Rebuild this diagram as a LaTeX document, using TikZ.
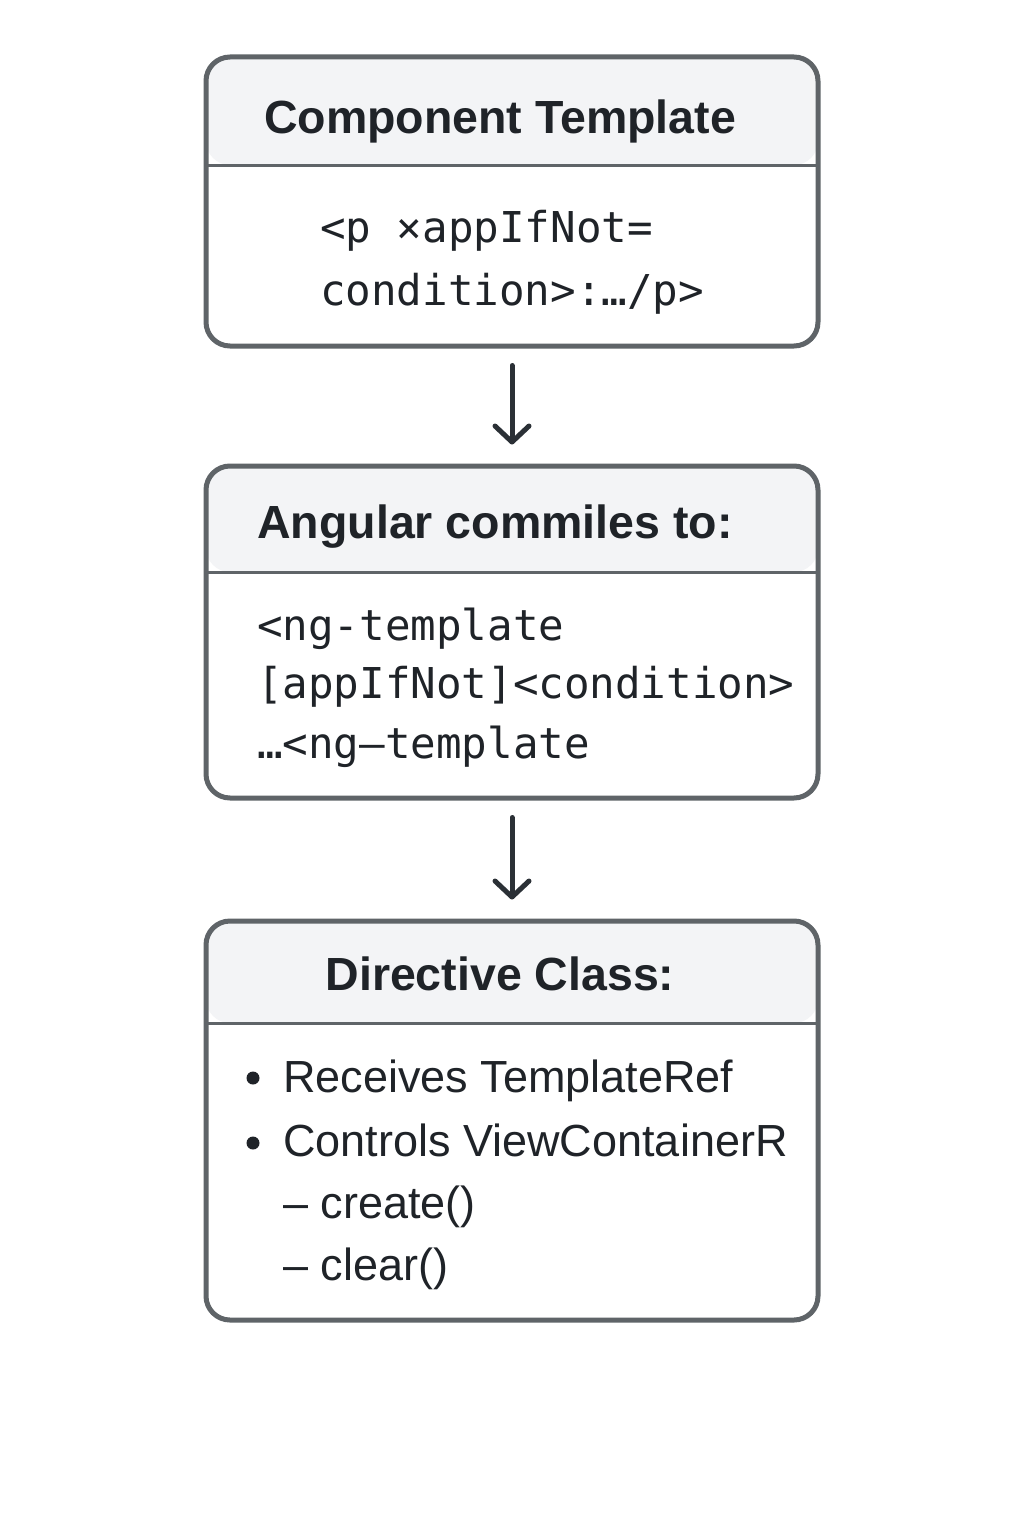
\documentclass[tikz,border=0pt]{standalone}
\usepackage{fontspec}
\setmainfont{Liberation Sans}
\setmonofont{DejaVu Sans Mono}
\usetikzlibrary{arrows.meta,positioning,calc}
\definecolor{edge}{HTML}{5F6468}
\definecolor{ink}{HTML}{1F2328}
\definecolor{headbg}{HTML}{F3F4F6}
\definecolor{arrowc}{HTML}{2B3036}
\tikzset{
    panel/.style =    {rectangle,
                      rounded corners=24pt,
                      fill=white,
                      draw=edge,
                      line width=5pt,
                      minimum width=612pt,
                      inner sep=0pt,
                      path picture={
                        \fill[headbg] (path picture bounding box.north west)
                          rectangle ([yshift=-#1]path picture bounding box.north east);
                        \draw[edge, line width=3pt]
                          ([yshift=-#1]path picture bounding box.north west)
                          -- ([yshift=-#1]path picture bounding box.north east);}},
    headtext/.style = {text=ink,
                      font=\fontsize{46.5}{56}\selectfont\bfseries,
                      anchor=base,
                      inner sep=0pt},
    codetext/.style = {text=ink,
                      font=\fontsize{42.5}{50}\selectfont\ttfamily,
                      anchor=base west,
                      inner sep=0pt},
    itemtext/.style = {text=ink,
                      font=\fontsize{45}{54}\selectfont,
                      anchor=base west,
                      inner sep=0pt},
    dotmark/.style =  {circle,
                      fill=ink,
                      minimum size=13pt,
                      inner sep=0pt},
    flow/.style =     {-{Straight Barb[length=16pt,width=34pt,line cap=round,line join=round]},
                      draw=arrowc,
                      line width=5pt,
                      line cap=round,
                      shorten <=17pt,
                      shorten >=19pt}
}
\begin{document}
\begin{tikzpicture}[x=1pt,y=-1pt]
    \fill[white] (0,0) rectangle (1024,1536);
    \useasboundingbox (0,0) rectangle (1024,1536);
    % boxes
    \node[panel={108pt}, minimum height=289pt] (tmpl)      at (512,201.5)  {};
    \node[panel={106pt}, minimum height=332pt] (compiled)  at (512,632)    {};
    \node[panel={102pt}, minimum height=399pt] (directive) at (512,1120.5) {};
    % component template
    \node[headtext] (tmplhead)  at (500,133) {Component Template};
    \node[codetext] (tmplcode1) at (320,242) {<p ×appIfNot=};
    \node[codetext] (tmplcode2) at (320,305) {condition>:…/p>};
    % compiled output
    \node[headtext] (comphead)  at (495,538) {Angular commiles to:};
    \node[codetext] (compcode1) at (257,640) {<ng-template};
    \node[codetext] (compcode2) at (257,698) {[appIfNot]<condition>};
    \node[codetext] (compcode3) at (257,758) {…<ng—template};
    % directive class
    \node[headtext] (dirhead)   at (500,990)  {Directive Class:};
    \node[dotmark]  (dirdot1)   at (253,1078) {};
    \node[itemtext] (diritem1)  at (283,1092) {Receives TemplateRef};
    \node[dotmark]  (dirdot2)   at (253,1143) {};
    \node[itemtext] (diritem2)  at (283,1156) {Controls ViewContainerR};
    \node[itemtext] (diritem3)  at (283,1218) {– create()};
    \node[itemtext] (diritem4)  at (283,1280) {– clear()};
    % arrows
    \draw[flow] (tmpl) -- (compiled);
    \draw[flow] (compiled) -- (directive);
\end{tikzpicture}
\end{document}
